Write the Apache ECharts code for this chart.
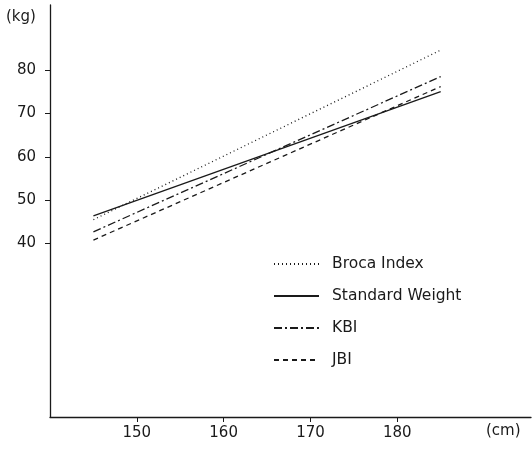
<!DOCTYPE html>
<html lang="en">
<head>
    <meta charset="UTF-8">
    <title>Weight index</title>
    <script src="https://cdn.jsdelivr.net/npm/echarts@6/dist/echarts.min.js"></script>
    <style>
        body{ margin:0; background:#fff; }
    </style>
</head>
<body>
    <div id="myChart" style="width: 532px;height:449px;"></div>
    <script>
        // height (cm) at the two ends of every line
        var heights = [145, 185];
        var broca = [45.5, 84.6];
        var standard = [46.4, 75.0];
        var kbi = [42.7, 78.5];
        var jbi = [40.8, 76.2];
        var xTicks = [150, 160, 170, 180];
        var yTicks = [40, 50, 60, 70, 80];

        function pairs(vals){
            return heights.map(function(h, i){ return [h, vals[i]]; });
        }

        var ink = '#1a1a1a';
        var font = 'DejaVu Sans';

        function lineSeries(name, vals, type){
            return {
                name: name,
                type: 'line',
                symbol: 'none',
                data: pairs(vals),
                lineStyle: {color: ink, width: 1.3, type: type},
                itemStyle: {color: ink}
            };
        }

        var myChart = echarts.init(document.getElementById('myChart'));
        var option = {
            animation: false,
            grid: {left: 50, right: 1, top: 5, bottom: 32},
            legend: {
                orient: 'vertical',
                left: 268,
                top: 251,
                itemWidth: 45,
                itemHeight: 14,
                itemGap: 16,
                itemStyle: {opacity: 0},
                textStyle: {fontFamily: font, fontSize: 15.5, color: ink, padding: [0, 0, 0, 8]},
                data: ['Broca Index', 'Standard Weight', 'KBI', 'JBI']
            },
            xAxis: {
                type: 'value', min: 140, max: 195.4,
                splitLine: {show: false},
                axisLine: {lineStyle: {color: ink, width: 1.3}},
                axisTick: {customValues: xTicks, length: 5, lineStyle: {color: ink}},
                axisLabel: {customValues: xTicks, fontFamily: font, fontSize: 15, color: ink, margin: 9}
            },
            yAxis: {
                type: 'value', min: 0, max: 95,
                splitLine: {show: false},
                axisLine: {lineStyle: {color: ink, width: 1.3}},
                axisTick: {customValues: yTicks, length: 5, lineStyle: {color: ink}},
                axisLabel: {customValues: yTicks, fontFamily: font, fontSize: 15, color: ink, margin: 14}
            },
            graphic: [
                {type: 'text', left: 6, top: 10, style: {text: '(kg)', font: '15px ' + font, fill: ink}},
                {type: 'text', left: 486, top: 424, style: {text: '(cm)', font: '15px ' + font, fill: ink}}
            ],
            series: [
                lineSeries('Broca Index', broca, [1, 3]),
                lineSeries('Standard Weight', standard, 'solid'),
                lineSeries('KBI', kbi, [8, 3, 2, 3]),
                lineSeries('JBI', jbi, [5, 4])
            ]
        };
        myChart.setOption(option);
    </script>
</body>
</html>
